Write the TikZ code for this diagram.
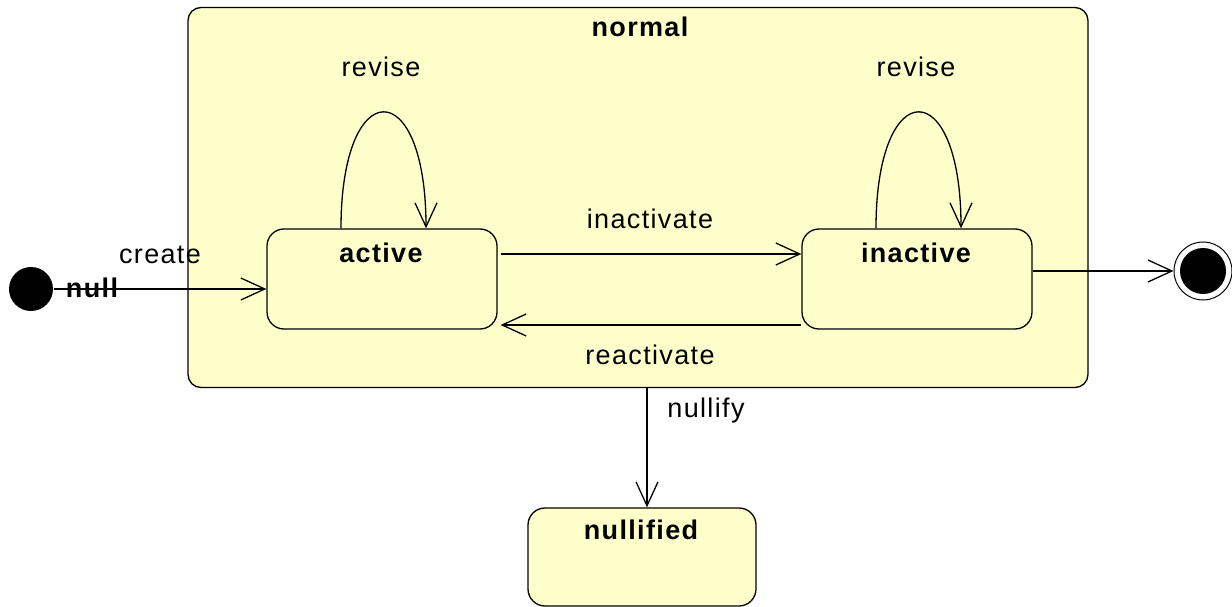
\documentclass[tikz,border=0pt]{standalone}
\usepackage{fontspec}
\setmainfont{Liberation Sans}[LetterSpace=5]
\usetikzlibrary{arrows.meta}
\definecolor{statefill}{RGB}{255,255,204}
\tikzset{
  container/.style={draw, fill=statefill, rounded corners=13pt, minimum width=900pt, minimum height=380pt, inner sep=0pt},
  statebox/.style={draw, fill=statefill, rounded corners=17pt, minimum width=230pt, minimum height=100pt, inner sep=0pt},
  bold/.style={font=\fontsize{27}{30}\selectfont\bfseries, inner sep=0pt},
  lbl/.style={font=\fontsize{27}{30}\selectfont, inner sep=0pt},
}
\begin{document}
\begin{tikzpicture}[x=1pt,y=-1pt, line width=1.3pt, >={Straight Barb[length=24pt,width=22pt]}]
\useasboundingbox (0,0) rectangle (1232,607);
\node[container] (normal) at (638,197.5) {};
\node[bold] (normaltxt) at (640,27) {normal};
\node[statebox] (active) at (382,279) {};
\node[bold] (activetxt) at (381,253) {active};
\node[statebox] (inactive) at (917,279) {};
\node[bold] (inactivetxt) at (916,253) {inactive};
\node[statebox, minimum width=228pt, minimum height=98pt] (nullified) at (642,557) {};
\node[bold] (nullifiedtxt) at (641,530) {nullified};
% initial and final
\node[circle, fill=black, minimum size=44pt, inner sep=0pt] (init) at (31,289) {};
\node[draw, circle, minimum size=58pt, inner sep=0pt, line width=1pt] (final) at (1203,271) {};
\node[circle, fill=black, minimum size=46pt, inner sep=0pt] (finalin) at (final) {};
% connectors
\draw[->] (init.east) -- (init.east -| active.west);
\node[bold] (nulltxt) at (92,288) {null};
\node[lbl] (createtxt) at (160,255) {create};
\draw[->] ([xshift=3pt,yshift=25pt]active.east) -- ([yshift=25pt]inactive.west);
\node[lbl] (inacttxt) at (650,219) {inactivate};
\draw[->] ([yshift=-46pt]inactive.west) -- ([xshift=3pt,yshift=-46pt]active.east);
\node[lbl] (reacttxt) at (650,355) {reactivate};
\draw[->] (inactive.east |- final) -- (final.west);
\draw[->] ([xshift=5pt]nullified.north |- normal.south) -- ([xshift=5pt]nullified.north);
\node[lbl] (nullifytxt) at (706,411) {nullify};
\draw[->] ([xshift=-41pt]active.north) .. controls +(0,-155) and +(0,-155) .. ([xshift=44pt]active.north);
\node[lbl] (rev1) at (381,67) {revise};
\draw[->] ([xshift=-41pt]inactive.north) .. controls +(0,-155) and +(0,-155) .. ([xshift=44pt]inactive.north);
\node[lbl] (rev2) at (916,67) {revise};
\end{tikzpicture}
\end{document}
